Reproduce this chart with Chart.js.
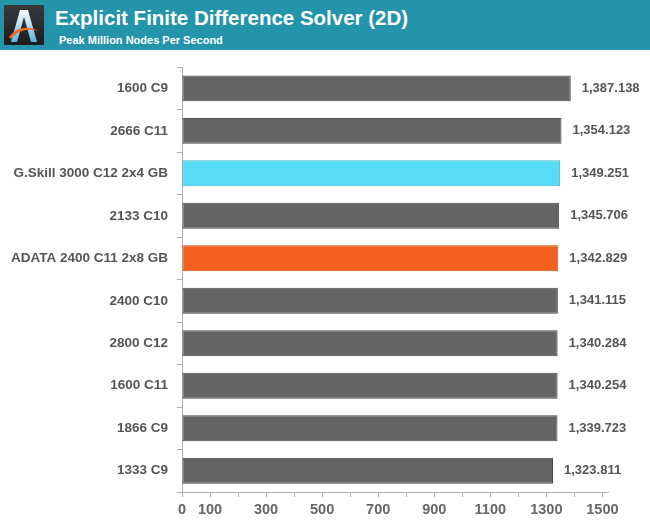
<!DOCTYPE html>
<html>
<head>
<meta charset="utf-8">
<script src="https://cdn.jsdelivr.net/npm/chart.js@4.4.1/dist/chart.umd.min.js"></script>
<style>
  body { margin: 0; background: #fff; width: 650px; height: 525px; overflow: hidden; }
  #header { position: absolute; left: 0; top: 0; width: 650px; height: 50px; background: #2494aa; }
  #logo { position: absolute; left: 4px; top: 5px; }
  #title { position: absolute; left: 55px; top: 6px; color: #fff; font: bold 20.5px "Liberation Sans", Arial, sans-serif; white-space: nowrap; }
  #subtitle { position: absolute; left: 59px; top: 34px; color: #fff; font: bold 11px "Liberation Sans", Arial, sans-serif; white-space: nowrap; }
  #wrap { position: absolute; left: 0; top: 50px; width: 650px; height: 475px; }
</style>
</head>
<body>
<div id="header">
  <svg id="logo" width="40" height="40" viewBox="0 0 40 40">
    <defs>
      <linearGradient id="bg" x1="0" y1="0" x2="0" y2="1">
        <stop offset="0" stop-color="#3a3a3a"/><stop offset="1" stop-color="#1c1c1c"/>
      </linearGradient>
      <linearGradient id="ag" x1="0" y1="0" x2="0" y2="1">
        <stop offset="0" stop-color="#ffffff"/><stop offset="1" stop-color="#5ab4e0"/>
      </linearGradient>
    </defs>
    <rect width="40" height="40" fill="url(#bg)"/>
    <path d="M16 5 L24 5 L33 37 L27 37 L20 12 L13 37 L7 37 Z" fill="url(#ag)"/>
    <path d="M5 32 C12 22 24 20 35 26 C24 23 14 25 7 34 Z" fill="#f26a1b"/>
  </svg>
  <div id="title">Explicit Finite Difference Solver (2D)</div>
  <div id="subtitle">Peak Million Nodes Per Second</div>
</div>
<div id="wrap"><canvas id="chart"></canvas></div>
<script>
// ── Data
const labels = [
  '1600 C9', '2666 C11', 'G.Skill 3000 C12 2x4 GB', '2133 C10', 'ADATA 2400 C11 2x8 GB',
  '2400 C10', '2800 C12', '1600 C11', '1866 C9', '1333 C9'
];
const values = [1387.138, 1354.123, 1349.251, 1345.706, 1342.829, 1341.115, 1340.284, 1340.254, 1339.723, 1323.811];
const xTicks = [0, 100, 200, 300, 400, 500, 600, 700, 800, 900, 1000, 1100, 1200, 1300, 1400, 1500];
const xShown = [0, 100, 300, 500, 700, 900, 1100, 1300, 1500];

const GREY   = { fill: '#646464', edge: '#4a4a4a' };
const CYAN   = { fill: '#56dcf6', edge: '#3fb3cc' };
const ORANGE = { fill: '#f35f1f', edge: '#c94b12' };

function barStyle(label) {
  if (label.startsWith('G.Skill')) return CYAN;
  if (label.startsWith('ADATA')) return ORANGE;
  return GREY;
}

// ── Value labels to the right of each bar
const valueLabels = {
  id: 'valueLabels',
  afterDatasetsDraw(chart) {
    const ctx = chart.ctx;
    const meta = chart.getDatasetMeta(0);
    ctx.save();
    ctx.font = 'bold 13px "Liberation Sans", Arial, sans-serif';
    ctx.fillStyle = '#555';
    ctx.textAlign = 'left';
    ctx.textBaseline = 'middle';
    meta.data.forEach((bar, i) => {
      ctx.fillText(values[i].toLocaleString('en-US', { minimumFractionDigits: 3 }), bar.x + 11, bar.y);
    });
    ctx.restore();
  }
};

new Chart(document.getElementById('chart'), {
  type: 'bar',
  data: {
    labels: labels,
    datasets: [{
      data: values,
      backgroundColor: labels.map(l => barStyle(l).fill),
      borderColor: labels.map(l => barStyle(l).edge),
      borderWidth: 1,
      borderSkipped: false,
      barPercentage: 0.61,
      categoryPercentage: 1
    }]
  },
  options: {
    indexAxis: 'y',
    responsive: true,
    maintainAspectRatio: false,
    animation: false,
    layout: { padding: { top: 15, right: 42, left: 0, bottom: 0 } },
    plugins: { legend: { display: false }, tooltip: { enabled: false } },
    scales: {
      x: {
        min: 0,
        max: 1520,
        afterBuildTicks: s => { s.ticks = xTicks.map(v => ({ value: v })); },
        afterFit: s => { s.height = 33; },
        border: { color: '#b0b0b0', width: 1 },
        grid: { drawOnChartArea: false, tickLength: 5, color: '#b0b0b0' },
        ticks: {
          autoSkip: false,
          maxRotation: 0,
          padding: 4,
          color: '#666',
          font: { family: '"Liberation Sans", Arial, sans-serif', size: 14.5, weight: 'bold' },
          callback: v => xShown.includes(v) ? String(v) : ''
        }
      },
      y: {
        afterFit: s => { s.width = 182; },
        border: { color: '#b0b0b0', width: 1 },
        grid: { drawOnChartArea: false, tickLength: 5, color: '#b0b0b0' },
        ticks: {
          padding: 9,
          color: '#555',
          font: { family: '"Liberation Sans", Arial, sans-serif', size: 13.5, weight: 'bold' }
        }
      }
    }
  },
  plugins: [valueLabels]
});
</script>
</body>
</html>
